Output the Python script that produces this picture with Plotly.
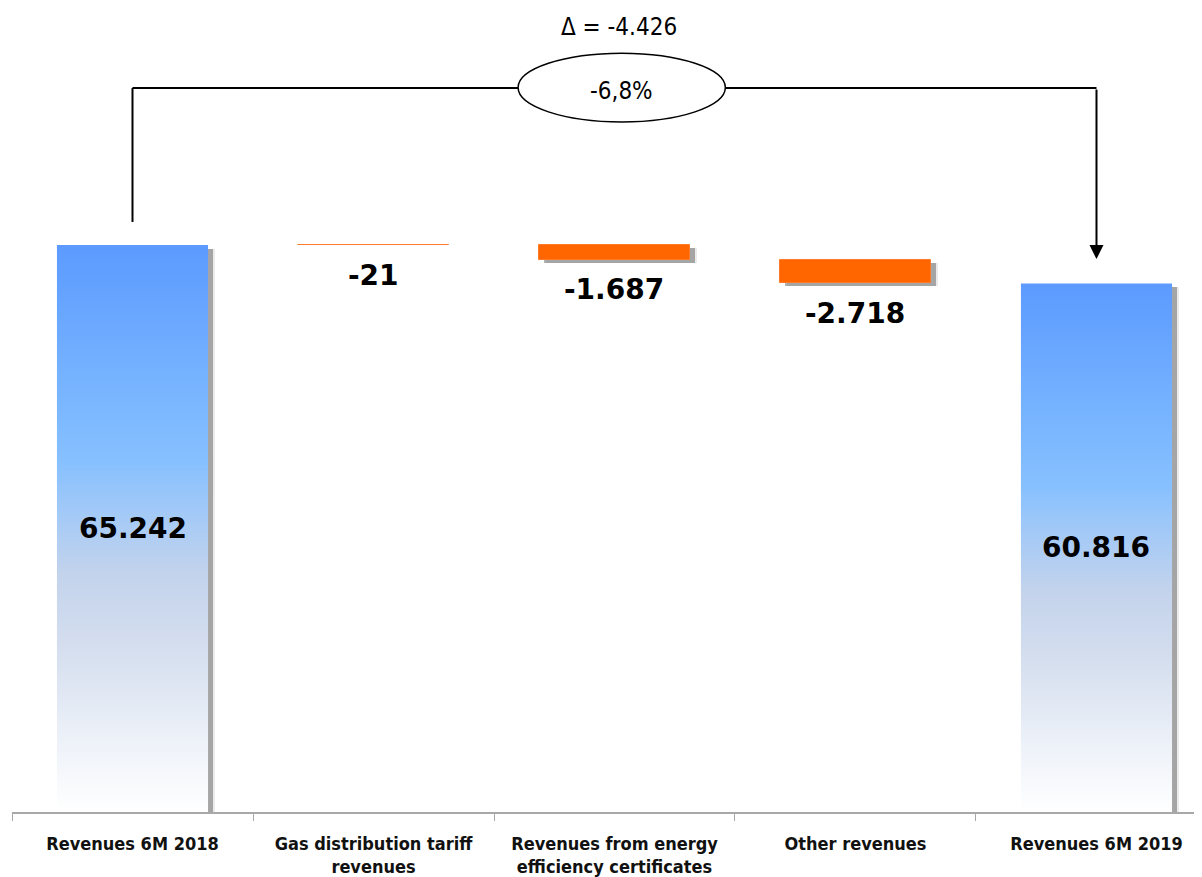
import plotly.graph_objects as go

# ---------------- data ----------------
categories = [
    "Revenues 6M 2018",
    "Gas distribution tariff<br>revenues",
    "Revenues from energy<br>efficiency certificates",
    "Other revenues",
    "Revenues 6M 2019",
]
values = [65242, -21, -1687, -2718, 60816]
measures = ["total", "relative", "relative", "relative", "total"]

# ---------------- helpers ----------------
def fmt(v):
    return f"{v:,}".replace(",", ".")

delta = values[-1] - values[0]
pct = delta / values[0] * 100
pct_txt = f"{pct:.1f}%".replace(".", ",")

BAR_W = 0.627
SH = 0.021  # shadow offset (x units)
BLUE_SCALE = [
    [0.0, "#ffffff"],
    [0.12, "#eef2f9"],
    [0.3, "#d3ddee"],
    [0.42, "#c3d3ec"],
    [0.52, "#a5caf6"],
    [0.62, "#86c0ff"],
    [0.78, "#74b1ff"],
    [1.0, "#5c9aff"],
]
SMALL_FONT = "DejaVu Sans Condensed, DejaVu Sans"

fig = go.Figure()

# running bases for the relative steps
bases = []
running = 0
for v, m in zip(values, measures):
    if m == "total":
        bases.append(0)
        running = v
    else:
        bases.append(running)
        running += v

# shadows
for i, (v, m, b) in enumerate(zip(values, measures, bases)):
    if m == "total":
        y0, y1 = -600, v - 450
    else:
        y0, y1 = b + v - 350, b - 350
    for off, col in [(SH * 1.35, "rgba(0,0,0,0.08)"), (SH, "rgba(60,60,60,0.40)")]:
        fig.add_trace(go.Bar(
            x=[i + off], y=[y1 - y0], base=[y0], width=BAR_W,
            marker=dict(color=col, line=dict(width=0)),
            hoverinfo="skip", showlegend=False,
        ))

# total bars with vertical gradient
for i, (v, m) in enumerate(zip(values, measures)):
    if m != "total":
        continue
    xl, xr = i - BAR_W / 2, i + BAR_W / 2
    fig.add_trace(go.Scatter(
        x=[xl, xr, xr, xl, xl], y=[0, 0, v, v, 0],
        mode="lines", line=dict(width=0), fill="toself",
        fillgradient=dict(type="vertical", colorscale=BLUE_SCALE),
        hoverinfo="skip", showlegend=False,
    ))

# relative (negative) steps
rel_idx = [i for i, m in enumerate(measures) if m == "relative"]
fig.add_trace(go.Bar(
    x=rel_idx, y=[values[i] for i in rel_idx], base=[bases[i] for i in rel_idx],
    width=BAR_W,
    marker=dict(color="#ff6600", line=dict(color="#ff7a26", width=1)),
    hoverinfo="skip", showlegend=False,
))

# value labels
for i, (v, m, b) in enumerate(zip(values, measures, bases)):
    if m == "total":
        fig.add_annotation(x=i, y=v / 2, text=f"<b>{fmt(v)}</b>", showarrow=False,
                           font=dict(family="DejaVu Sans", size=28, color="#000000"),
                           xanchor="center", yanchor="middle")
    else:
        fig.add_annotation(x=i, y=b + v, text=f"<b>{fmt(v)}</b>", showarrow=False,
                           font=dict(family="DejaVu Sans", size=28, color="#000000"),
                           xanchor="center", yanchor="middle", yshift=-30)

# ---------------- delta bracket ----------------
TOP = 83300
fig.add_shape(type="line", x0=0, x1=0, y0=values[0] + 2650, y1=TOP,
              line=dict(color="#000000", width=2), layer="above")
fig.add_shape(type="line", x0=0, x1=1.6, y0=TOP, y1=TOP,
              line=dict(color="#000000", width=2), layer="above")
fig.add_shape(type="line", x0=2.46, x1=len(values) - 1, y0=TOP, y1=TOP,
              line=dict(color="#000000", width=2), layer="above")
fig.add_annotation(x=len(values) - 1, y=values[-1] + 2800, ax=len(values) - 1, ay=TOP,
                   axref="x", ayref="y", xref="x", yref="y", text="",
                   showarrow=True, arrowhead=2, arrowsize=1.4, arrowwidth=2,
                   arrowcolor="#000000")
fig.add_shape(type="circle", x0=1.6, x1=2.46, y0=79400, y1=87300,
              line=dict(color="#000000", width=1.5), fillcolor="#ffffff", layer="above")
fig.add_annotation(x=2.03, y=TOP - 300, text=pct_txt, showarrow=False,
                   font=dict(family=SMALL_FONT, size=24, color="#000000"))
fig.add_annotation(x=2.02, y=90300, text=f"Δ = {fmt(delta)}", showarrow=False,
                   font=dict(family=SMALL_FONT, size=24, color="#000000"))

# ---------------- layout ----------------
fig.update_layout(
    width=1202, height=877,
    margin=dict(l=4, r=0, t=0, b=73),
    paper_bgcolor="#ffffff", plot_bgcolor="#ffffff",
    barmode="overlay", bargap=0,
    showlegend=False,
    xaxis=dict(
        range=[-0.5, 4.471],
        tickmode="array", tickvals=list(range(len(categories))),
        ticktext=[f"<b>{c}</b>" for c in categories],
        ticks="", showgrid=False, zeroline=False,
        showline=True, linecolor="#a8a8a8", linewidth=2,
        tickfont=dict(family=SMALL_FONT, size=18, color="#111111"),
        ticklabelstandoff=14,
        minor=dict(ticks="outside", tickmode="array",
                   tickvals=[i - 0.5 for i in range(len(categories) + 1)],
                   ticklen=7, tickcolor="#a8a8a8", tickwidth=1, showgrid=False),
        fixedrange=True,
    ),
    yaxis=dict(range=[0, 92510], visible=False, showgrid=False, zeroline=False,
               fixedrange=True),
)

fig.write_html("out.html")
